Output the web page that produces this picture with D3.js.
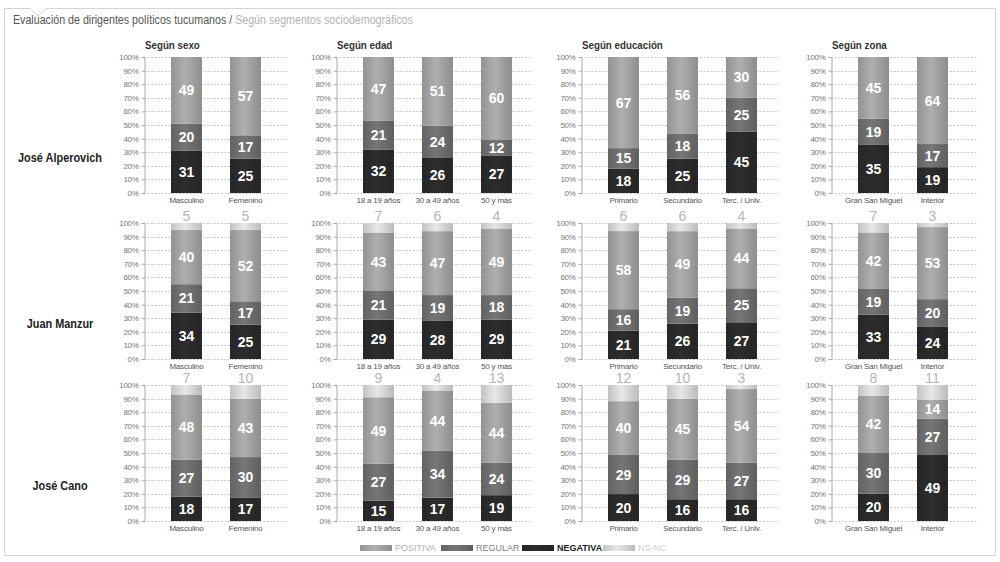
<!DOCTYPE html>
<html>
<head>
<meta charset="utf-8">
<script src="https://cdn.jsdelivr.net/npm/d3@7"></script>
<style>
  body { margin: 0; background: #fff; }
  svg { display: block; font-family: "Liberation Sans", Arial, sans-serif; }
</style>
</head>
<body>
<svg id="chart" width="1000" height="562"></svg>
<script>
// ---- data ----
const leaders = ['José Alperovich', 'Juan Manzur', 'José Cano'];
const groups = ['Según sexo', 'Según edad', 'Según educación', 'Según zona'];
const groupCategories = [
  ['Masculino', 'Femenino'],
  ['18 a 19 años', '30 a 49 años', '50 y más'],
  ['Primario', 'Secundario', 'Terc. / Univ.'],
  ['Gran San Miguel', 'Interior']
];
const seriesNames = ['NEGATIVA', 'REGULAR', 'POSITIVA', 'NS-NC'];
const legendOrder = ['POSITIVA', 'REGULAR', 'NEGATIVA', 'NS-NC'];

// values per leader, per group, per category: [negativa, regular, positiva, ns/nc]
const alperovich = [
  [[31, 20, 49, 0], [25, 17, 57, 0]],
  [[32, 21, 47, 0], [26, 24, 51, 0], [27, 12, 60, 0]],
  [[18, 15, 67, 0], [25, 18, 56, 0], [45, 25, 30, 0]],
  [[35, 19, 45, 0], [19, 17, 64, 0]]
];
const manzur = [
  [[34, 21, 40, 5], [25, 17, 52, 5]],
  [[29, 21, 43, 7], [28, 19, 47, 6], [29, 18, 49, 4]],
  [[21, 16, 58, 6], [26, 19, 49, 6], [27, 25, 44, 4]],
  [[33, 19, 42, 7], [24, 20, 53, 3]]
];
const cano = [
  [[18, 27, 48, 7], [17, 30, 43, 10]],
  [[15, 27, 49, 9], [17, 34, 44, 4], [19, 24, 44, 13]],
  [[20, 29, 40, 12], [16, 29, 45, 10], [16, 27, 54, 3]],
  [[20, 30, 42, 8], [49, 27, 14, 11]]
];
const leaderValues = [alperovich, manzur, cano];
const yTicks = d3.range(0, 101, 10);

// ---- layout ----
const svg = d3.select('#chart');
const axisX = [144, 336, 581, 831];
const gridEnd = [288, 532, 778, 978];
const rowTop = [57, 223, 385];
const plotH = 136;
const step = 59;
const pad = 0.475;

const colors = {
  'NEGATIVA': '#2b2b2b',
  'REGULAR': '#707070',
  'POSITIVA': '#a6a6a6',
  'NS-NC': '#dcdcdc'
};

// cylinder-ish gradients
const defs = svg.append('defs');
seriesNames.forEach((s, i) => {
  const base = d3.color(colors[s]);
  const g = defs.append('linearGradient').attr('id', 'grad' + i)
    .attr('x1', '0%').attr('x2', '100%').attr('y1', '0%').attr('y2', '0%');
  g.append('stop').attr('offset', '0%').attr('stop-color', base.darker(0.35));
  g.append('stop').attr('offset', '45%').attr('stop-color', base.brighter(0.15));
  g.append('stop').attr('offset', '100%').attr('stop-color', base.darker(0.45));
});

// frame
svg.append('path')
  .attr('d', 'M4.5,8.5 H30 L38,16 L46,8.5 H995.5 V555.5 H4.5 Z')
  .attr('fill', 'none').attr('stroke', '#d4d4d4');

// title
const title = svg.append('text').attr('transform', 'translate(13,24) scale(0.79,1)').attr('font-size', 13.5);
title.append('tspan').attr('fill', '#555').text('Evaluación de dirigentes políticos tucumanos / ');
title.append('tspan').attr('fill', '#b3b3b3').text('Según segmentos sociodemográficos');

// group titles
groups.forEach((g, gi) => {
  svg.append('text')
    .attr('transform', `translate(${axisX[gi] + 1},49) scale(0.85,1)`)
    .attr('font-size', 11.5).attr('font-weight', 'bold').attr('fill', '#333')
    .text(g);
});

// leader labels
leaders.forEach((name, li) => {
  svg.append('text')
    .attr('transform', `translate(60,${rowTop[li] + plotH * 0.77}) scale(0.84,1)`)
    .attr('text-anchor', 'middle')
    .attr('font-size', 13).attr('font-weight', 'bold').attr('fill', '#222')
    .text(name);
});

const stack = d3.stack().keys(d3.range(seriesNames.length)).offset(d3.stackOffsetExpand);

leaders.forEach((leader, li) => {
  const y = d3.scaleLinear().domain([0, 1]).range([rowTop[li] + plotH, rowTop[li]]);

  groups.forEach((grp, gi) => {
    const cats = groupCategories[gi];
    const vals = leaderValues[li][gi];
    const x0 = axisX[gi] + 27;
    const x = d3.scaleBand().domain(cats)
      .range([x0, x0 + step * (cats.length - pad)])
      .paddingInner(pad).paddingOuter(0);

    const panel = svg.append('g');

    // grid
    panel.append('g').selectAll('line').data(yTicks).join('line')
      .attr('x1', axisX[gi]).attr('x2', gridEnd[gi])
      .attr('y1', d => Math.round(y(d / 100)) + 0.5).attr('y2', d => Math.round(y(d / 100)) + 0.5)
      .attr('stroke', '#c8c8c8').attr('stroke-dasharray', '2,1.5');

    // y axis
    const yAxis = d3.axisLeft(y).tickValues(yTicks.map(d => d / 100))
      .tickFormat(d => Math.round(d * 100) + '%').tickSize(3);
    const ag = panel.append('g').attr('transform', `translate(${axisX[gi] + 0.5},0)`).call(yAxis);
    ag.select('.domain').attr('stroke', '#aaa');
    ag.selectAll('.tick line').attr('stroke', '#aaa');
    ag.selectAll('.tick text').attr('font-size', 8).attr('fill', '#777')
      .attr('font-family', '"Liberation Sans", Arial, sans-serif').attr('letter-spacing', -0.3);

    // bars
    const stacked = stack(vals);
    stacked.forEach((layer, si) => {
      const segs = panel.append('g');
      segs.selectAll('rect').data(layer).join('rect')
        .attr('x', (d, i) => x(cats[i]))
        .attr('width', x.bandwidth())
        .attr('y', d => y(d[1]))
        .attr('height', d => Math.max(0, y(d[0]) - y(d[1])))
        .attr('fill', `url(#grad${si})`);

      if (si < 3) {
        segs.selectAll('text').data(layer).join('text')
          .attr('x', (d, i) => x(cats[i]) + x.bandwidth() / 2)
          .attr('y', d => (y(d[0]) + y(d[1])) / 2 + 5)
          .attr('text-anchor', 'middle')
          .attr('font-size', 14).attr('font-weight', 'bold').attr('fill', '#fff')
          .text((d, i) => vals[i][si]);
      } else {
        segs.selectAll('text').data(layer.filter((d, i) => vals[i][si] > 0)).join('text')
          .attr('x', d => x(cats[layer.indexOf(d)]) + x.bandwidth() / 2)
          .attr('y', d => y(d[1]) - 2)
          .attr('text-anchor', 'middle')
          .attr('font-size', 14).attr('fill', '#b5b5b5')
          .text(d => vals[layer.indexOf(d)][si]);
      }
    });

    // category labels
    panel.append('g').selectAll('text').data(cats).join('text')
      .attr('x', d => x(d) + x.bandwidth() / 2)
      .attr('y', rowTop[li] + plotH + 10)
      .attr('text-anchor', 'middle')
      .attr('font-size', 8).attr('letter-spacing', -0.2).attr('fill', '#555')
      .text(d => d);
  });
});

// legend
const legendColors = {
  'POSITIVA': '#b0b0b0', 'REGULAR': '#808080', 'NEGATIVA': '#222', 'NS-NC': '#cfcfcf'
};
const lx = d3.scaleBand().domain(legendOrder).range([360, 684]);
const leg = svg.append('g');
legendOrder.forEach(s => {
  const si = seriesNames.indexOf(s);
  leg.append('rect').attr('x', lx(s)).attr('y', 545).attr('width', 32).attr('height', 6)
    .attr('fill', `url(#grad${si})`);
  leg.append('text').attr('x', lx(s) + 35).attr('y', 551)
    .attr('font-size', 9).attr('fill', legendColors[s])
    .attr('font-weight', s === 'NEGATIVA' ? 'bold' : 'normal')
    .text(s);
});
</script>
</body>
</html>
